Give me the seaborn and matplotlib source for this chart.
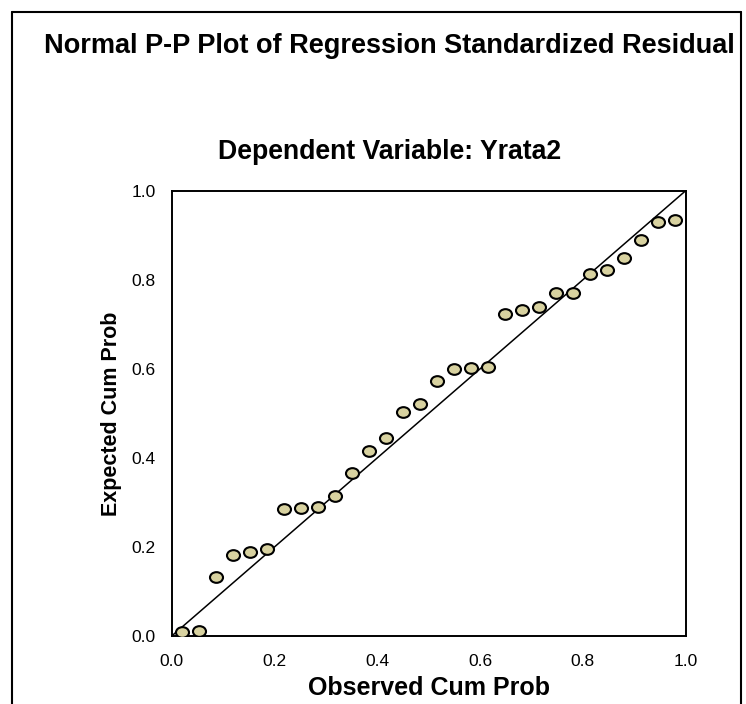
import numpy as np
import matplotlib
matplotlib.use("Agg")
import matplotlib.pyplot as plt
from matplotlib.path import Path
from matplotlib.transforms import Affine2D
from matplotlib.lines import Line2D
import seaborn as sns

# data (30 residuals)
observed_cum_prob = [0.021, 0.054, 0.087, 0.120, 0.153, 0.186, 0.219, 0.252, 0.285, 0.318,
                     0.351, 0.384, 0.417, 0.450, 0.484, 0.517, 0.550, 0.583, 0.616, 0.649,
                     0.682, 0.715, 0.748, 0.781, 0.814, 0.847, 0.880, 0.913, 0.946, 0.979]
expected_cum_prob = [0.010, 0.011, 0.132, 0.183, 0.189, 0.196, 0.286, 0.288, 0.289, 0.314,
                     0.367, 0.416, 0.444, 0.502, 0.521, 0.573, 0.599, 0.602, 0.604, 0.724,
                     0.732, 0.738, 0.771, 0.771, 0.813, 0.823, 0.849, 0.889, 0.930, 0.935]
ref_line = [0.0, 1.0]
tick_values = [0.0, 0.2, 0.4, 0.6, 0.8, 1.0]

sns.set_style("white")
plt.rcParams['font.family'] = ['Liberation Sans', 'DejaVu Sans']
plt.rcParams['text.color'] = 'black'
plt.rcParams['axes.labelcolor'] = 'black'

W, H = 746, 704
fig = plt.figure(figsize=(W / 100, H / 100), dpi=100)

# axes box in pixel coords
x0, x1, y_top, y_bot = 171.7, 685.7, 190.7, 636.0
ax = fig.add_axes([x0 / W, 1 - y_bot / H, (x1 - x0) / W, (y_bot - y_top) / H])

# slightly flattened oval marker like SPSS
oval = Path.unit_circle().transformed(Affine2D().scale(1.0, 0.82))

sns.lineplot(x=ref_line, y=ref_line, ax=ax, color="black", linewidth=1.1)
sns.scatterplot(x=observed_cum_prob, y=expected_cum_prob, ax=ax, marker=oval, s=88,
                color="#D8D2A0", edgecolor="black", linewidth=1.5, zorder=3)

ax.set_xlim(0, 1)
ax.set_ylim(0, 1)
ax.set_xticks(tick_values)
ax.set_yticks(tick_values)
ax.set_xticklabels([f"{v:.1f}" for v in tick_values])
ax.set_yticklabels([f"{v:.1f}" for v in tick_values])
ax.tick_params(axis="both", direction="out", length=8.6, width=1.4, colors="black",
               labelsize=12.5)
ax.tick_params(axis="x", pad=4.5)
ax.tick_params(axis="y", pad=3)
for sp in ax.spines.values():
    sp.set_visible(True)
    sp.set_color("black")
    sp.set_linewidth(1.4)

ax.set_xlabel("Observed Cum Prob", fontsize=18, fontweight="bold")
ax.set_ylabel("Expected Cum Prob", fontsize=15.5, fontweight="bold")
ax.xaxis.set_label_coords(0.5, (y_bot - 676) / (y_bot - y_top))
ax.yaxis.set_label_coords((122 - x0) / (x1 - x0), 0.5)

fig.text(389 / W, 1 - 52.7 / H, "Normal P-P Plot of Regression Standardized Residual",
         ha="center", va="baseline", fontsize=19.5, fontweight="bold")
fig.text(390 / W, 1 - 159.3 / H, "Dependent Variable: Yrata2",
         ha="center", va="baseline", fontsize=19.2, fontweight="bold")

# outer frame (left, top, right)
lx, rx, ty = 12 / W, 741 / W, 1 - 12 / H
for xs, ys in [([lx, lx], [0, ty]), ([lx, rx], [ty, ty]), ([rx, rx], [ty, 0])]:
    fig.add_artist(Line2D(xs, ys, color="black", linewidth=1.5, transform=fig.transFigure))

fig.savefig("out.png", dpi=100)
